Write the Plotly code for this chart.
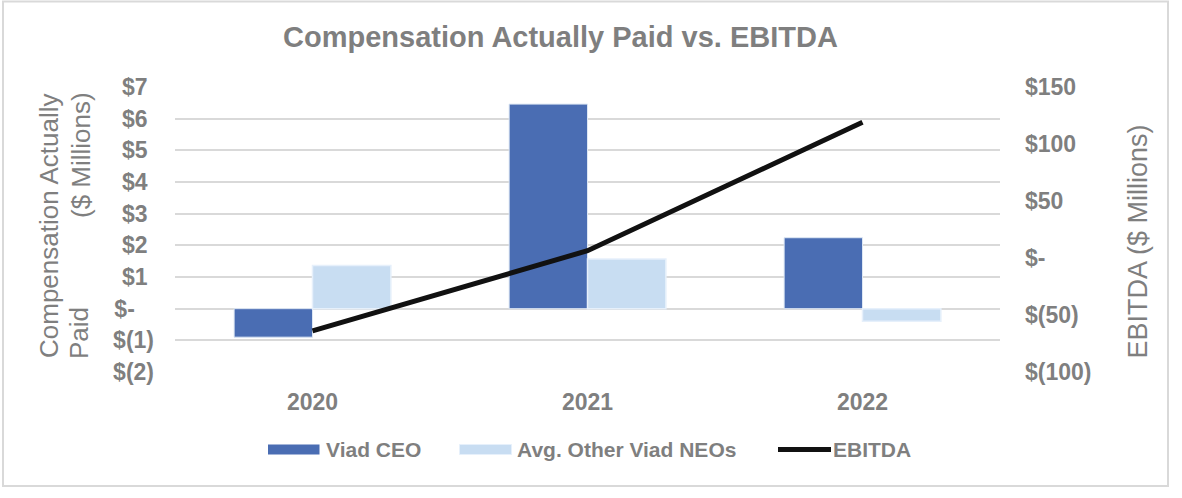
import plotly.graph_objects as go

# ---------------- data ----------------
years = ["2020", "2021", "2022"]
ceo_cap = [-0.9, 6.46, 2.24]          # $ millions
neo_cap = [1.36, 1.57, -0.40]         # $ millions
ebitda = [-64, 6.4, 119]              # $ millions

left_tick_vals = [-2, -1, 0, 1, 2, 3, 4, 5, 6, 7]
left_tick_text = ["$(2)", "$(1)", "$-\u2007\u2008", "$1\u2008", "$2\u2008", "$3\u2008",
                  "$4\u2008", "$5\u2008", "$6\u2008", "$7\u2008"]
right_tick_vals = [-100, -50, 0, 50, 100, 150]
right_tick_text = ["$(100)", "$(50)", "$-", "$50", "$100", "$150"]

title_text = "Compensation Actually Paid vs. EBITDA"
legend_names = ["Viad CEO", "Avg. Other Viad NEOs", "EBITDA"]

# ---------------- styles ----------------
W, H = 1182, 498
L, R, T, B = 175, 1000, 87, 372
TXT = "#7f7f7f"
GRID = "#d9d9d9"
CEO_C = "#4a6db3"
NEO_C = "#c8ddf2"
LINE_C = "#111111"
FONT = "Liberation Sans"


def xp(px):
    return (px - L) / (R - L)


def yp(py):
    return (B - py) / (B - T)


fig = go.Figure()

fig.add_trace(go.Bar(
    x=years, y=ceo_cap, name=legend_names[0],
    marker=dict(color=CEO_C, line=dict(color="#dde7f4", width=1)),
    showlegend=False,
))
fig.add_trace(go.Bar(
    x=years, y=neo_cap, name=legend_names[1],
    marker=dict(color=NEO_C, line=dict(color="#e6f0fb", width=1.5)),
    showlegend=False,
))
fig.add_trace(go.Scatter(
    x=years, y=ebitda, name=legend_names[2], yaxis="y2", mode="lines",
    line=dict(color=LINE_C, width=5),
    showlegend=False,
))

fig.update_layout(
    width=W, height=H,
    margin=dict(l=L, r=W - R, t=T, b=H - B),
    paper_bgcolor="white", plot_bgcolor="white",
    barmode="group", bargap=0.43, bargroupgap=0,
    showlegend=False,
    xaxis=dict(
        type="category", showgrid=False, zeroline=False, showline=False,
        ticks="", ticklabelstandoff=14,
        tickfont=dict(family=FONT, size=23, color=TXT, weight="bold"),
    ),
    yaxis=dict(
        range=[-2, 7], tickvals=left_tick_vals, ticktext=left_tick_text,
        showgrid=True, gridcolor=GRID, gridwidth=2, zeroline=False, showline=False,
        ticks="", ticklabelstandoff=20,
        tickfont=dict(family=FONT, size=23, color=TXT, weight="bold"),
    ),
    yaxis2=dict(
        range=[-100, 150], tickvals=right_tick_vals, ticktext=right_tick_text,
        overlaying="y", side="right", showgrid=False, zeroline=False, showline=False,
        ticks="", ticklabelstandoff=24,
        tickfont=dict(family=FONT, size=23, color=TXT, weight="bold"),
    ),
)

shapes = []
# chart border
shapes.append(dict(type="rect", xref="paper", yref="paper",
                   x0=xp(3), x1=xp(1168), y0=yp(486), y1=yp(1.5),
                   line=dict(color=GRID, width=2), fillcolor="rgba(0,0,0,0)", layer="below"))
# legend swatches
shapes.append(dict(type="rect", xref="paper", yref="paper",
                   x0=xp(268), x1=xp(319.5), y0=yp(454.5), y1=yp(444.5),
                   line=dict(width=0), fillcolor=CEO_C))
shapes.append(dict(type="rect", xref="paper", yref="paper",
                   x0=xp(459.5), x1=xp(511.5), y0=yp(454.5), y1=yp(444.5),
                   line=dict(color="#e6f0fb", width=1), fillcolor=NEO_C))
shapes.append(dict(type="line", xref="paper", yref="paper",
                   x0=xp(778), x1=xp(831), y0=yp(449.5), y1=yp(449.5),
                   line=dict(color=LINE_C, width=5)))
fig.update_layout(shapes=shapes)

ann = []
ann.append(dict(text=title_text, xref="paper", yref="paper", x=xp(560.5), y=yp(37),
                xanchor="center", yanchor="middle", showarrow=False,
                font=dict(family=FONT, size=29, color=TXT, weight="bold")))
# left axis title (three pieces, justified second line)
ann.append(dict(text="Compensation Actually", xref="paper", yref="paper",
                x=xp(49), y=yp(226), xanchor="center", yanchor="middle",
                textangle=-90, showarrow=False,
                font=dict(family=FONT, size=26, color=TXT)))
ann.append(dict(text="Paid", xref="paper", yref="paper",
                x=xp(79), y=yp(361), xanchor="center", yanchor="bottom",
                textangle=-90, showarrow=False,
                font=dict(family=FONT, size=26, color=TXT)))
ann.append(dict(text="($ Millions)", xref="paper", yref="paper",
                x=xp(81), y=yp(90), xanchor="center", yanchor="top",
                textangle=-90, showarrow=False,
                font=dict(family=FONT, size=26, color=TXT)))
# right axis title
ann.append(dict(text="EBITDA ($ Millions)", xref="paper", yref="paper",
                x=xp(1137), y=yp(241.5), xanchor="center", yanchor="middle",
                textangle=-90, showarrow=False,
                font=dict(family=FONT, size=27, color=TXT)))
# legend labels
for name, lx in zip(legend_names, [324, 515, 831]):
    ann.append(dict(text=name, xref="paper", yref="paper",
                    x=xp(lx), y=yp(449.5), xanchor="left", yanchor="middle",
                    showarrow=False,
                    font=dict(family=FONT, size=21, color=TXT, weight="bold")))
fig.update_layout(annotations=ann)

fig.write_html(
    "out.html",
    config={"displayModeBar": False},
    post_script="document.body.style.margin='0';document.body.style.overflow='hidden';",
)
